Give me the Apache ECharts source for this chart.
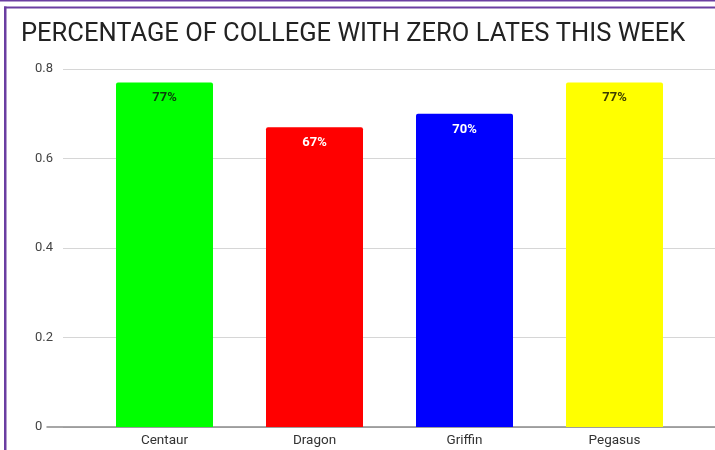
<!DOCTYPE html>
<html><head><meta charset="utf-8">
<script src="https://cdn.jsdelivr.net/npm/echarts@6/dist/echarts.min.js"></script>
<style>html,body{margin:0;padding:0;background:#fff}#c{width:715px;height:450px}</style>
</head><body><div id="c"></div>
<script>
const categories = ['Centaur', 'Dragon', 'Griffin', 'Pegasus'];
const values = [0.77, 0.67, 0.70, 0.77];
const barColors = ['#00ff00', '#ff0000', '#0000ff', '#ffff00'];
const labelColors = ['#0b3d0b', '#ffffff', '#ffffff', '#3d3d00'];
const yTicks = [0, 0.2, 0.4, 0.6, 0.8];
const title = 'PERCENTAGE OF COLLEGE WITH ZERO LATES THIS WEEK';

const chart = echarts.init(document.getElementById('c'));
const purple = '#6a3ea1';
const gTop = 69, gBottom = 23;
chart.setOption({
  animation: false,
  textStyle: { fontFamily: 'Roboto' },
  title: { text: title, left: 16, top: 17, textStyle: { fontSize: 25.5, fontWeight: 'normal', color: '#222', fontFamily: 'Roboto' } },
  graphic: [
    { type: 'rect', shape: { x: 0, y: 0, width: 715, height: 1.5 }, style: { fill: purple } },
    { type: 'rect', shape: { x: 4, y: 6.5, width: 711, height: 2 }, style: { fill: purple } },
    { type: 'rect', shape: { x: 4, y: 6.5, width: 2.5, height: 444 }, style: { fill: purple } }
  ],
  grid: [
    { left: 63, right: 0, top: gTop, bottom: gBottom },
    { left: 47, right: 0, top: gTop, bottom: gBottom },
    { left: 89.5, right: 25.5, top: gTop, bottom: gBottom }
  ],
  xAxis: [
    { gridIndex: 0, type: 'category', data: categories, show: false },
    { gridIndex: 1, type: 'category', data: categories, axisLine: { show: true, lineStyle: { color: '#8a8a8a', width: 1.5 } }, axisTick: { show: false }, axisLabel: { show: false } },
    { gridIndex: 2, type: 'category', data: categories, axisLine: { show: false }, axisTick: { show: false },
      axisLabel: { color: '#333', fontSize: 13.5, margin: 7 } }
  ],
  yAxis: [
    { gridIndex: 0, type: 'value', min: yTicks[0], max: yTicks[yTicks.length - 1], interval: 0.2,
      axisLine: { show: false }, axisTick: { show: false },
      axisLabel: { color: '#444', fontSize: 13, align: 'left', margin: 28, formatter: v => (yTicks.includes(Math.round(v * 10) / 10) ? String(Math.round(v * 10) / 10) : '') },
      splitLine: { lineStyle: { color: '#d6d6d6', width: 1 } } },
    { gridIndex: 1, type: 'value', min: 0, max: 0.8, show: false },
    { gridIndex: 2, type: 'value', min: 0, max: 0.8, show: false }
  ],
  series: [{
    type: 'bar', xAxisIndex: 2, yAxisIndex: 2, barWidth: 97,
    data: values.map((v, i) => ({ value: v, itemStyle: { color: barColors[i], borderRadius: [2, 2, 0, 0] },
      label: { color: labelColors[i] } })),
    label: { show: true, position: 'insideTop', distance: 9, fontSize: 13, fontWeight: 'bold',
      formatter: p => Math.round(p.value * 100) + '%' }
  }]
});
</script></body></html>
